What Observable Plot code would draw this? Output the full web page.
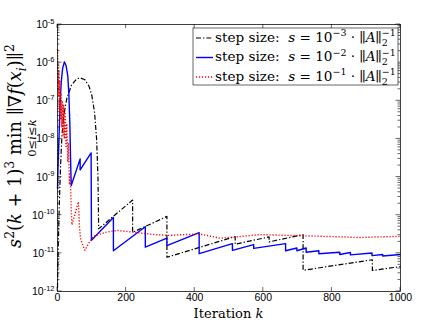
<!DOCTYPE html>
<html><head><meta charset="utf-8">
<script src="https://cdn.jsdelivr.net/npm/d3@7"></script>
<script src="https://cdn.jsdelivr.net/npm/@observablehq/plot@0.6"></script>
<style>body{margin:0;background:#fff}svg{display:block}</style>
</head><body><div id="chart"></div>
<script>
// ---- data ----
const xTicks = [0, 200, 400, 600, 800, 1000];
const yExps = [-12, -11, -10, -9, -8, -7, -6, -5];
const legendExps = ["−3", "−2", "−1"];

// s = 1e-3 (black, dash-dot)
const kBlack = [0,3,6,9,13,18,27,40,55,66,80,92,100,108,114,118,120,219,219,319,319,518,518,617,617,716,716,918,918,1000];
const vBlack = [1.26e-12,3.2e-11,3.2e-10,2.0e-9,1.26e-8,4.0e-8,1.12e-7,2.5e-7,3.7e-7,4.0e-7,3.55e-7,2.4e-7,1.4e-7,5.0e-8,1.0e-8,1.0e-9,4.4e-11,2.5e-10,3.55e-11,9.3e-11,7.9e-12,2.75e-11,1.74e-11,2.7e-11,2.0e-11,3.1e-11,3.6e-12,6.8e-12,3.55e-12,4.5e-12];

// s = 1e-2 (blue, solid)
const kBlue = [0,2,5,8,11,15,20,25,30,33,36,38,40,66,66,98,99,163,163,256,256,319,319,413,413,510,510,572,572,665,665,698,698,725,725,762,762,823,823,854,854,917,917,948,948,1000];
const vBlue = [5.0e-10,2.5e-9,1.58e-8,1.0e-7,3.16e-7,7.1e-7,1.05e-6,8.3e-7,4.5e-7,1.58e-7,2.5e-8,3.2e-9,6.0e-10,3.0e-9,1.55e-9,4.3e-9,2.2e-11,8.7e-11,1.17e-11,5.0e-11,1.45e-11,2.5e-11,1.6e-11,3.5e-11,9.8e-12,1.8e-11,1.2e-11,1.7e-11,1.35e-11,1.8e-11,1.17e-11,1.38e-11,1.17e-11,1.38e-11,1.07e-11,1.17e-11,9.8e-12,1.07e-11,9.3e-12,1.05e-11,9.1e-12,1.02e-11,8.7e-12,9.3e-12,8.5e-12,9.3e-12];

// s = 1e-1 (red, dotted)
const kRed = [0,2,3,4,6,7,9,10,12,14,16,18,20,22,25,27,30,32,35,37,40,42,50,61,64,67,72,80,90,105,139,175,225,275,320,370,416,475,530,590,650,710,800,880,940,1000];
const vRed = [2.24e-6,7.9e-7,1.26e-7,6.3e-7,5.0e-8,3.2e-7,3.2e-8,1.58e-7,2.0e-8,1.0e-7,1.26e-8,7.9e-8,1.0e-8,5.0e-8,6.3e-9,2.5e-8,2.5e-9,7.9e-9,6.3e-10,1.26e-9,1.58e-10,5.6e-11,1.0e-10,2.24e-10,5.0e-11,2.5e-11,1.78e-11,1.2e-11,1.78e-11,2.8e-11,3.55e-11,4.0e-11,3.55e-11,3.16e-11,2.95e-11,3.1e-11,3.2e-11,2.5e-11,2.75e-11,3.1e-11,3.0e-11,2.9e-11,2.75e-11,2.6e-11,2.7e-11,2.8e-11];

const toRows = (ks, vs) => ks.map((k, i) => ({k, v: vs[i]}));
const SANS = "'Liberation Sans', Arial, Helvetica, sans-serif";
const SERIF = "'DejaVu Serif', 'Liberation Serif', serif";

const styles = [
  {stroke: "#000000", strokeWidth: 1.2, strokeDasharray: "5,2,1.3,2", strokeLinecap: "butt"},
  {stroke: "#0000ff", strokeWidth: 1.4, strokeDasharray: null, strokeLinecap: "butt"},
  {stroke: "#ff0000", strokeWidth: 1.4, strokeDasharray: "1.2,1.8", strokeLinecap: "butt"}
];

const chart = Plot.plot({
  width: 443, height: 327,
  marginLeft: 57, marginRight: 43, marginTop: 24, marginBottom: 36,
  style: {fontFamily: SANS, fontSize: "10.5px", background: "#fff", color: "#000"},
  x: {domain: [0, 1000], label: null},
  y: {type: "log", domain: [1e-12, 1e-5], label: null},
  marks: [
    Plot.line(toRows(kBlack, vBlack), {x: "k", y: "v", ...styles[0]}),
    Plot.line(toRows(kBlue, vBlue), {x: "k", y: "v", ...styles[1]}),
    Plot.line(toRows(kRed, vRed), {x: "k", y: "v", ...styles[2]}),
    Plot.frame({stroke: "#000", strokeWidth: 0.75}),
    Plot.axisX(xTicks, {tickSize: 0, tickPadding: 2, fontSize: 10.5, fill: "#000", label: null, tickFormat: d3.format("d")}),
    Plot.axisY({ticks: [], tickSize: 0, label: null})
  ]
});
document.getElementById("chart").appendChild(chart);

const svg = d3.select(chart);
const xs = chart.scale("x"), ys = chart.scale("y");
const X0 = xs.apply(0), X1 = xs.apply(1000), Y0 = ys.apply(1e-12), Y1 = ys.apply(1e-5);

// inward ticks on all four sides
const tg = svg.append("g").attr("stroke", "#000").attr("stroke-width", 0.6);
for (const t of xTicks) {
  const px = xs.apply(t);
  tg.append("line").attr("x1", px).attr("x2", px).attr("y1", Y0).attr("y2", Y0 - 4);
  tg.append("line").attr("x1", px).attr("x2", px).attr("y1", Y1).attr("y2", Y1 + 4);
}
for (const e of yExps) {
  const py = ys.apply(Math.pow(10, e));
  tg.append("line").attr("x1", X0).attr("x2", X0 + 4.5).attr("y1", py).attr("y2", py);
  tg.append("line").attr("x1", X1).attr("x2", X1 - 4.5).attr("y1", py).attr("y2", py);
  if (e < -5) for (let m = 2; m <= 9; m++) {
    const pm = ys.apply(m * Math.pow(10, e));
    tg.append("line").attr("x1", X0).attr("x2", X0 + 2.5).attr("y1", pm).attr("y2", pm);
    tg.append("line").attr("x1", X1).attr("x2", X1 - 2.5).attr("y1", pm).attr("y2", pm);
  }
  const lab = svg.append("text").attr("x", X0 - 2.5).attr("y", py + 4).attr("text-anchor", "end")
    .attr("font-family", SANS).attr("font-size", 10.5).attr("fill", "#000");
  lab.append("tspan").text("10");
  lab.append("tspan").attr("dy", -4.5).attr("font-size", 7.5).text(String(e));
}

// rich text helper
function rich(parent, parts, size, attrs) {
  const t = parent.append("text").attr("font-size", size).attr("font-family", SERIF)
    .attr("fill", "#000").attr("text-anchor", "start");
  for (const [k, v] of Object.entries(attrs || {})) t.attr(k, v);
  let shift = 0;
  for (const p of parts) {
    const target = p.sup ? -0.4 * size : p.sub ? 0.3 * size : 0;
    const ts = t.append("tspan").text(p.t);
    if (target !== shift) ts.attr("dy", target - shift);
    shift = target;
    if (p.sup || p.sub) ts.attr("font-size", size * 0.7);
    if (p.it) ts.attr("font-style", "italic");
    if (p.dx) ts.attr("dx", p.dx * size);
    if (p.id) ts.attr("class", p.id);
  }
  return t;
}
function fitted(parent, parts, size0, width) {
  const probe = rich(parent, parts, size0, {});
  const w = probe.node().getBBox().width;
  probe.remove();
  return size0 * width / w;
}

// x label
const xParts = [{t: "Iteration "}, {t: "k", it: true}];
const xs0 = fitted(svg, xParts, 13, 70);
rich(svg, xParts, xs0, {x: (X0 + X1) / 2, y: 318, "text-anchor": "middle"});

// y label
const yg = svg.append("g").attr("transform", `translate(21,146) rotate(-90)`);
const yParts = [
  {t: "s", it: true}, {t: "2", sup: true}, {t: "("}, {t: "k", it: true}, {t: " + 1)"}, {t: "3", sup: true},
  {t: " "}, {t: "min", id: "minpart"}, {t: " ∥∇"}, {t: "f", it: true}, {t: "("}, {t: "x", it: true},
  {t: "i", it: true, sub: true}, {t: ")∥"}, {t: "2", sup: true}
];
const YW = 204;
const ys0 = fitted(yg, yParts, 14, YW);
const yt = rich(yg, yParts, ys0, {x: -YW / 2, y: 0});
const minNode = yt.select(".minpart").node();
const mx = (minNode.getStartPositionOfChar(0).x + minNode.getEndPositionOfChar(2).x) / 2;
rich(yg, [{t: "0≤"}, {t: "i", it: true}, {t: "≤"}, {t: "k", it: true}], ys0 * 0.65,
  {x: mx, y: ys0 * 0.85, "text-anchor": "middle"});

// legend
const lg = svg.append("g");
lg.append("rect").attr("x", 193).attr("y", 28).attr("width", 205).attr("height", 57)
  .attr("fill", "#fff").attr("stroke", "#000").attr("stroke-width", 0.6);
const legParts = e => [
  {t: "step size:  "}, {t: "s", it: true}, {t: " = 10"}, {t: e, sup: true}, {t: " · ∥"},
  {t: "A", it: true}, {t: "∥"}, {t: "2", sub: true}, {t: "−1", sup: true, dx: -0.445}
];
const ls0 = fitted(lg, legParts(legendExps[0]), 13, 181);
legendExps.forEach((e, i) => {
  const by = 41.5 + i * 19.5;
  lg.append("line").attr("x1", 196).attr("x2", 213).attr("y1", by - 3.5).attr("y2", by - 3.5)
    .attr("stroke", styles[i].stroke).attr("stroke-width", styles[i].strokeWidth)
    .attr("stroke-dasharray", styles[i].strokeDasharray);
  rich(lg, legParts(e), ls0, {x: 215, y: by});
});
</script>
</body></html>
